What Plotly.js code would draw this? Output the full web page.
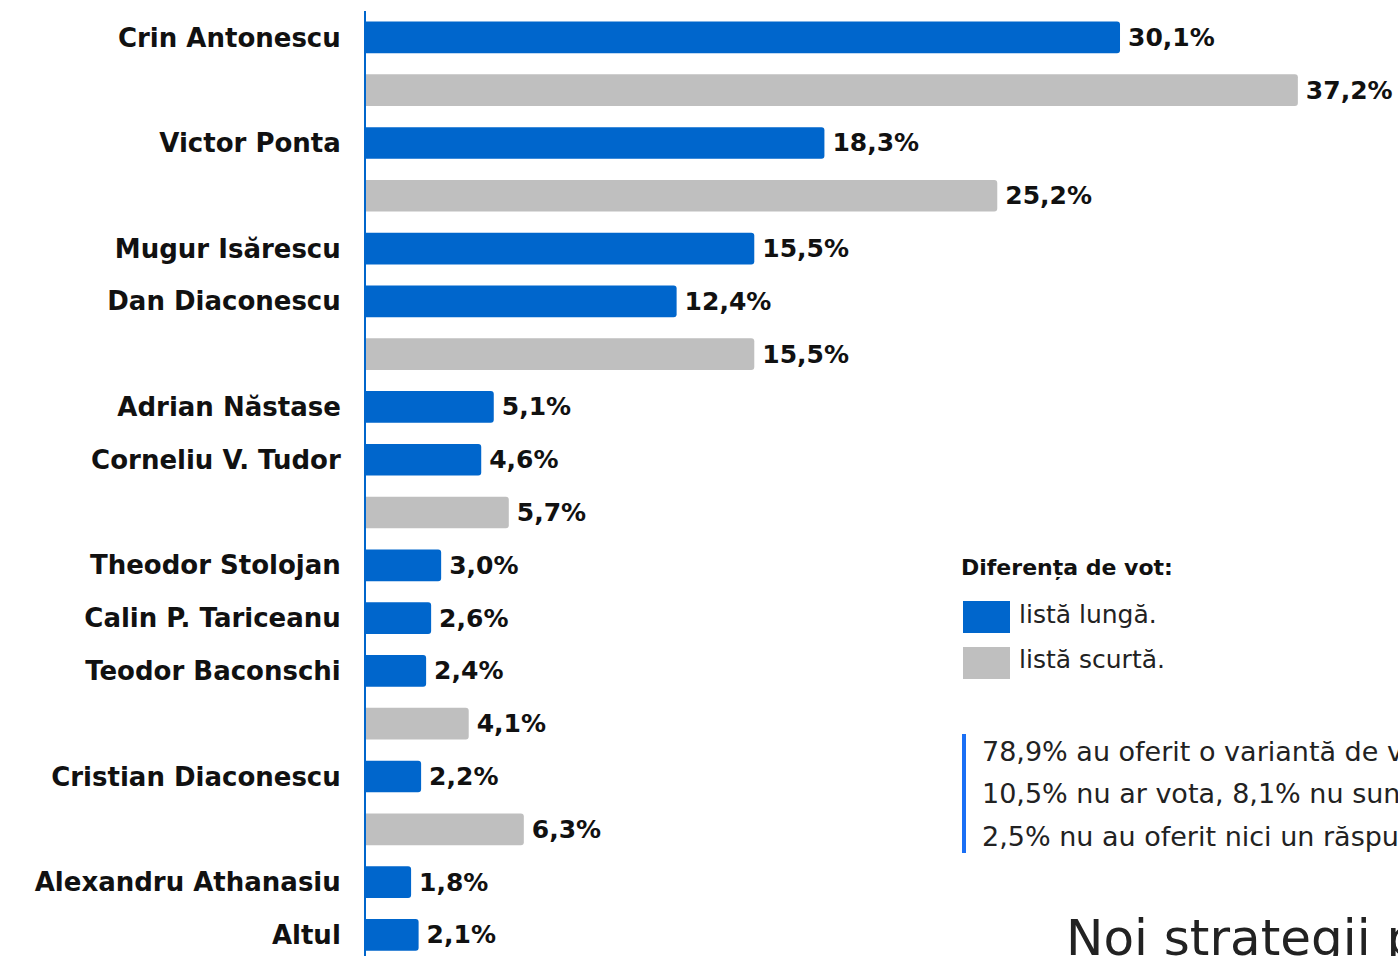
<!DOCTYPE html>
<html>
<head>
<meta charset="utf-8">
<script src="https://cdn.plot.ly/plotly-3.0.1.min.js"></script>
<style>
html,body{margin:0;padding:0;background:#fff;overflow:hidden;}
#chart{width:1398px;height:956px;}
</style>
</head>
<body>
<div id="chart"></div>
<script>
// ---- data ----
const labels = ['Crin Antonescu','','Victor Ponta','','Mugur Isărescu','Dan Diaconescu','',
  'Adrian Năstase','Corneliu V. Tudor','','Theodor Stolojan','Calin P. Tariceanu',
  'Teodor Baconschi','','Cristian Diaconescu','','Alexandru Athanasiu','Altul'];
const values = [30.1,37.2,18.3,25.2,15.5,12.4,15.5,5.1,4.6,5.7,3.0,2.6,2.4,4.1,2.2,6.3,1.8,2.1];
const listType = ['lunga','scurta','lunga','scurta','lunga','lunga','scurta','lunga','lunga','scurta',
  'lunga','lunga','lunga','scurta','lunga','scurta','lunga','lunga'];
const legendTitle = 'Diferența de vot:';
const legendLabels = {lunga: 'listă lungă.', scurta: 'listă scurtă.'};
const noteLines = ['78,9% au oferit o variantă de vot,',
  '10,5% nu ar vota, 8,1% nu sunt hotărâți,',
  '2,5% nu au oferit nici un răspuns.'];
const footerTitle = 'Noi strategii politice';

// ---- styles ----
const colors = {lunga: '#0066CC', scurta: '#BFBFBF'};
const FONT = '"DejaVu Sans", "Liberation Sans", sans-serif';

function fmt(v){ return '\u2009' + v.toFixed(1).replace('.', ',') + '%'; }

const rows = labels.map((_, i) => i);
function makeTrace(kind){
  const idx = rows.filter(i => listType[i] === kind);
  return {
    type: 'bar', orientation: 'h',
    x: idx.map(i => values[i]),
    y: idx,
    text: idx.map(i => fmt(values[i])),
    textposition: 'outside',
    textfont: {family: FONT, size: 25, color: '#111', weight: 'bold'},
    cliponaxis: false,
    width: 0.6,
    marker: {color: colors[kind], line: {width: 0}},
    name: legendLabels[kind],
    showlegend: false,
    hoverinfo: 'skip'
  };
}

const W = 1398, H = 956, ML = 366, MT = 11, MB = 0, MR = 0;
const pw = W - ML - MR, ph = H - MT - MB;
const px = x => (x - ML) / pw;
const py = y => (H - MB - y) / ph;

const shapes = [
  {type:'rect', xref:'paper', yref:'paper', x0:px(963), x1:px(1010), y0:py(633), y1:py(601),
   fillcolor: colors.lunga, line:{width:0}},
  {type:'rect', xref:'paper', yref:'paper', x0:px(963), x1:px(1010), y0:py(679), y1:py(647),
   fillcolor: colors.scurta, line:{width:0}},
  {type:'rect', xref:'paper', yref:'paper', x0:px(962), x1:px(966), y0:py(853), y1:py(734),
   fillcolor:'#1a6ff5', line:{width:0}}
];

const annotations = [
  {xref:'paper', yref:'paper', x:px(959), y:py(568), xanchor:'left', yanchor:'middle', showarrow:false,
   text: legendTitle, font:{family:FONT, size:22, color:'#111', weight:'bold'}},
  {xref:'paper', yref:'paper', x:px(1017), y:py(614), xanchor:'left', yanchor:'middle', showarrow:false,
   text: legendLabels.lunga, font:{family:FONT, size:25, color:'#222'}},
  {xref:'paper', yref:'paper', x:px(1017), y:py(659), xanchor:'left', yanchor:'middle', showarrow:false,
   text: legendLabels.scurta, font:{family:FONT, size:25, color:'#222'}}
];
const noteY = [751, 794, 836];
noteLines.forEach((t, i) => annotations.push({
  xref:'paper', yref:'paper', x:px(980), y:py(noteY[i]), xanchor:'left', yanchor:'middle', showarrow:false,
  text: t, font:{family:FONT, size:27, color:'#222'}
}));
annotations.push({xref:'paper', yref:'paper', x:px(1064), y:py(938), xanchor:'left', yanchor:'middle',
  showarrow:false, text: footerTitle, font:{family:FONT, size:50, color:'#222'}});

const layout = {
  width: W, height: H,
  margin: {l: ML, r: MR, t: MT, b: MB, pad: 0},
  paper_bgcolor: '#fff', plot_bgcolor: '#fff',
  barmode: 'overlay',
  barcornerradius: 3,
  xaxis: {range: [0, pw / 25.05], visible: false, fixedrange: true},
  yaxis: {
    range: [17.4, -0.5],
    tickvals: rows, ticktext: labels,
    showgrid: false, zeroline: false,
    showline: true, linecolor: '#0066CC', linewidth: 2,
    ticks: '', ticklabelstandoff: 18,
    tickfont: {family: FONT, size: 26, color: '#111', weight: 'bold'},
    fixedrange: true
  },
  shapes: shapes,
  annotations: annotations,
  showlegend: false
};

Plotly.newPlot('chart', [makeTrace('lunga'), makeTrace('scurta')], layout, {staticPlot: true, displayModeBar: false});
</script>
</body>
</html>
